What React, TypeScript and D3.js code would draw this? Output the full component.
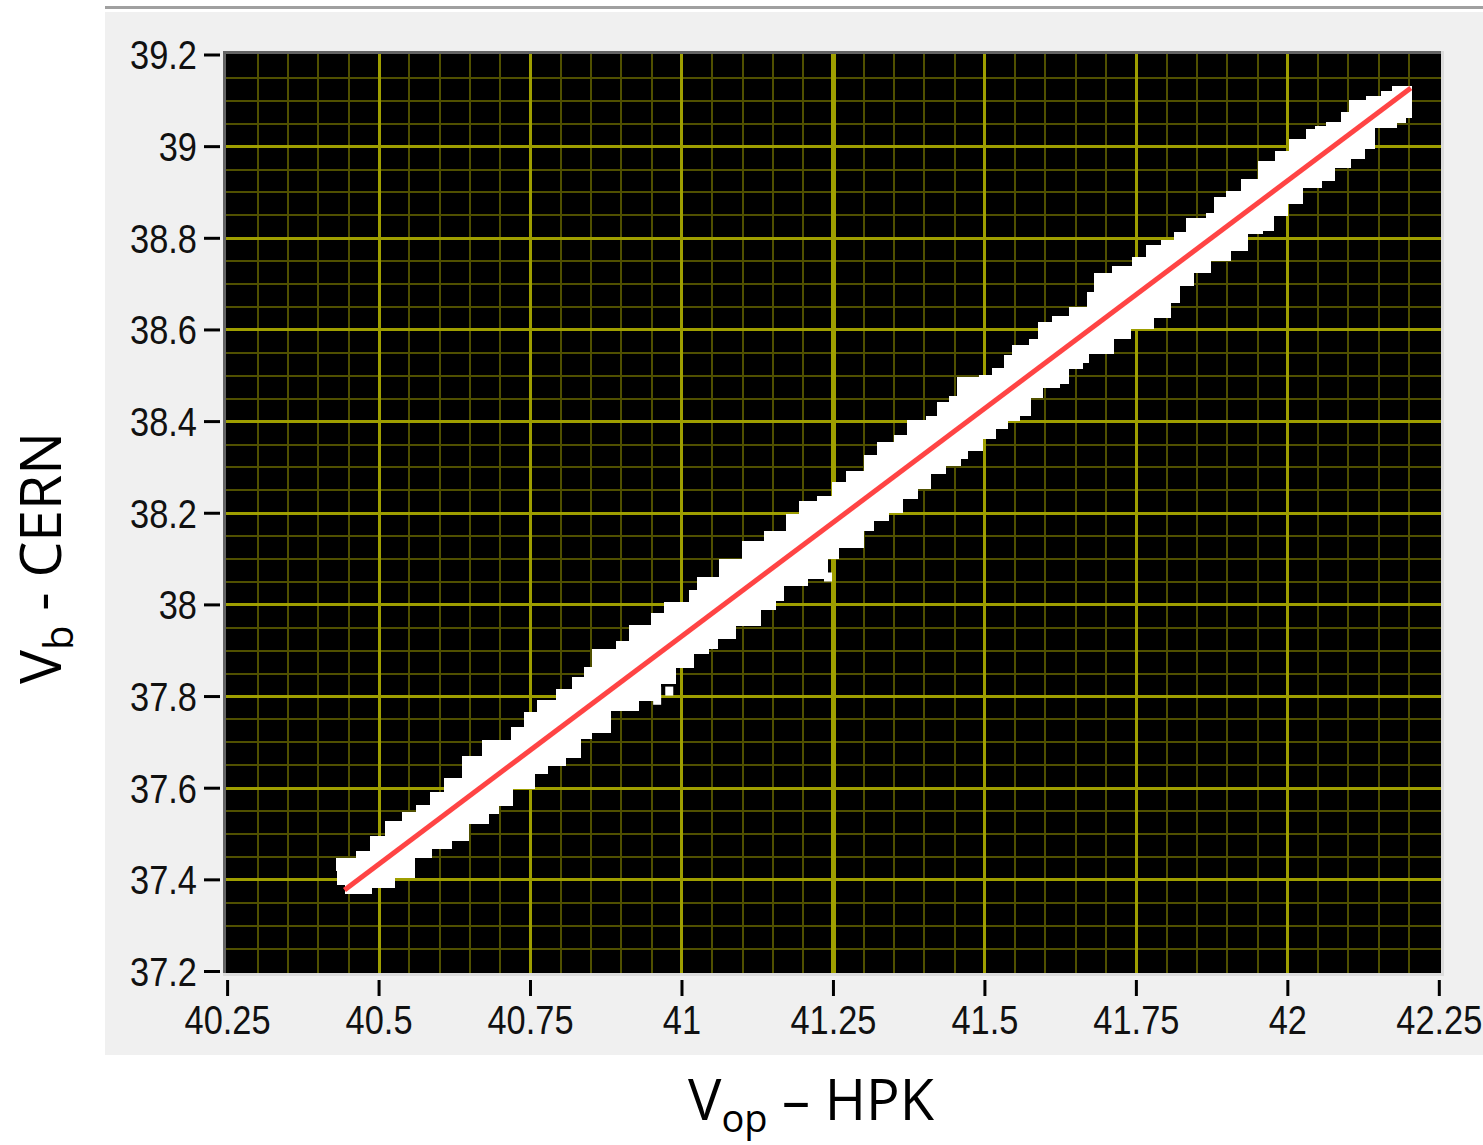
import React from "react";
import * as d3 from "d3";

// axis ticks
const xTicks = [40.25, 40.5, 40.75, 41, 41.25, 41.5, 41.75, 42, 42.25];
const xTickLabels = ["40.25", "40.5", "40.75", "41", "41.25", "41.5", "41.75", "42", "42.25"];
const yTicks = [37.2, 37.4, 37.6, 37.8, 38, 38.2, 38.4, 38.6, 38.8, 39, 39.2];
const yTickLabels = ["37.2", "37.4", "37.6", "37.8", "38", "38.2", "38.4", "38.6", "38.8", "39", "39.2"];
const cursorX = [41.25];

// white cloud of measured points, read as its upper and lower outline
const bandUpperX = [40.431, 40.464, 40.486, 40.511, 40.54, 40.563, 40.585, 40.609, 40.639, 40.672, 40.72, 40.741, 40.763, 40.794, 40.82, 40.84, 40.853, 40.893, 40.914, 40.951, 40.972, 41.013, 41.027, 41.063, 41.101, 41.137, 41.173, 41.195, 41.224, 41.249, 41.272, 41.302, 41.323, 41.351, 41.373, 41.404, 41.422, 41.442, 41.455, 41.492, 41.513, 41.533, 41.546, 41.574, 41.59, 41.612, 41.64, 41.67, 41.681, 41.711, 41.744, 41.767, 41.792, 41.813, 41.833, 41.866, 41.879, 41.899, 41.924, 41.953, 41.981, 42.003, 42.032, 42.047, 42.065, 42.09, 42.102, 42.131, 42.156, 42.173, 42.201, 42.204];
const bandUpperY = [37.42, 37.446, 37.46, 37.494, 37.527, 37.545, 37.562, 37.59, 37.621, 37.669, 37.704, 37.732, 37.765, 37.791, 37.815, 37.841, 37.863, 37.902, 37.92, 37.955, 37.981, 38.005, 38.031, 38.059, 38.099, 38.138, 38.16, 38.197, 38.225, 38.236, 38.267, 38.291, 38.325, 38.354, 38.369, 38.402, 38.41, 38.441, 38.454, 38.496, 38.5, 38.515, 38.543, 38.565, 38.578, 38.615, 38.629, 38.648, 38.681, 38.722, 38.738, 38.757, 38.783, 38.794, 38.812, 38.842, 38.853, 38.888, 38.901, 38.927, 38.967, 38.988, 39.015, 39.036, 39.043, 39.052, 39.073, 39.1, 39.108, 39.119, 39.13, 39.13];
const bandLowerX = [40.431, 40.445, 40.486, 40.524, 40.557, 40.585, 40.618, 40.646, 40.679, 40.697, 40.72, 40.755, 40.778, 40.807, 40.832, 40.849, 40.881, 40.91, 40.928, 40.964, 40.989, 41.018, 41.043, 41.058, 41.088, 41.129, 41.154, 41.167, 41.206, 41.239, 41.257, 41.299, 41.315, 41.34, 41.363, 41.388, 41.409, 41.434, 41.459, 41.47, 41.496, 41.516, 41.536, 41.557, 41.574, 41.595, 41.623, 41.637, 41.661, 41.67, 41.711, 41.739, 41.777, 41.805, 41.821, 41.843, 41.871, 41.904, 41.932, 41.957, 41.975, 41.998, 42.024, 42.055, 42.077, 42.102, 42.126, 42.143, 42.179, 42.193, 42.204];
const bandLowerY = [37.392, 37.372, 37.385, 37.407, 37.449, 37.47, 37.488, 37.525, 37.545, 37.564, 37.601, 37.634, 37.651, 37.669, 37.71, 37.723, 37.771, 37.771, 37.793, 37.83, 37.865, 37.896, 37.907, 37.928, 37.957, 37.99, 38.011, 38.044, 38.059, 38.103, 38.127, 38.164, 38.186, 38.203, 38.234, 38.256, 38.288, 38.306, 38.321, 38.338, 38.365, 38.386, 38.404, 38.415, 38.454, 38.476, 38.485, 38.517, 38.53, 38.55, 38.583, 38.605, 38.629, 38.661, 38.698, 38.727, 38.753, 38.775, 38.812, 38.818, 38.851, 38.877, 38.912, 38.927, 38.956, 38.975, 38.997, 39.043, 39.054, 39.065, 39.08];

// stray points below the cloud
const outlierX = [41.241, 40.959, 40.959, 40.979];
const outlierY = [38.062, 37.813, 37.793, 37.813];

// linear fit (red)
const fitX = [40.443, 42.203];
const fitY = [37.378, 39.128];

export default function App() {
  const width = 1483;
  const height = 1145;

  const x = d3.scaleLinear().domain([40.25, 42.25]).range([227.6, 1439.3]);
  const y = d3.scaleLinear().domain([37.2, 39.2]).range([971.5, 55]);

  const plot = { left: 226, top: 54, right: 1441, bottom: 973 };

  const minorX = x.ticks(40).filter((v) => v > 40.26 && v < 42.24);
  const minorY = y.ticks(40).filter((v) => v > 37.21 && v < 39.19);
  const majorX = xTicks.filter((v) => v > 40.25 && v < 42.25 && !cursorX.includes(v));
  const majorY = yTicks.filter((v) => v > 37.2 && v < 39.2);

  const outline: [number, number][] = [
    ...bandUpperX.map((v, i) => [v, bandUpperY[i]] as [number, number]),
    ...bandLowerX.map((v, i) => [v, bandLowerY[i]] as [number, number]).reverse(),
  ];
  // step "before" keeps the staircase on the outer side of both edges
  const band = d3
    .line<[number, number]>()
    .x((d) => x(d[0]))
    .y((d) => y(d[1]))
    .curve(d3.curveStepBefore);

  const fit = d3
    .line<number>()
    .x((d) => x(d))
    .y((_, i) => y(fitY[i]));

  const tickFont = "'Liberation Sans', Arial, sans-serif";
  const tickSquash = 0.86;
  const titleFont = "'Open Sans', 'Noto Sans', sans-serif";

  return (
    <svg
      width={width}
      height={height}
      style={{ position: "absolute", left: 0, top: 0, background: "white" }}
    >
      {/* LabVIEW-style panel */}
      <rect x={105} y={6} width={width - 105} height={3} fill="#a0a0a0" />
      <rect x={105} y={12} width={width - 105} height={1043} fill="#f0f0f0" />

      {/* plot frame */}
      <rect x={223} y={51} width={1221} height={925} fill="#dcdcdc" />
      <rect x={223} y={51} width={1218} height={922} fill="#646464" />
      <rect
        x={plot.left}
        y={plot.top}
        width={plot.right - plot.left}
        height={plot.bottom - plot.top}
        fill="#000"
      />

      <g shapeRendering="crispEdges">
        {minorX.map((v) => (
          <line key={`mx${v}`} x1={x(v)} x2={x(v)} y1={plot.top} y2={plot.bottom} stroke="#505000" strokeWidth={2} />
        ))}
        {minorY.map((v) => (
          <line key={`my${v}`} x1={plot.left} x2={plot.right} y1={y(v)} y2={y(v)} stroke="#505000" strokeWidth={2} />
        ))}
        {majorX.map((v) => (
          <line key={`Mx${v}`} x1={x(v)} x2={x(v)} y1={plot.top} y2={plot.bottom} stroke="#9e9e00" strokeWidth={3} />
        ))}
        {majorY.map((v) => (
          <line key={`My${v}`} x1={plot.left} x2={plot.right} y1={y(v)} y2={y(v)} stroke="#9e9e00" strokeWidth={3} />
        ))}
        {cursorX.map((v) => (
          <line key={`c${v}`} x1={x(v)} x2={x(v)} y1={plot.top} y2={plot.bottom} stroke="#9e9e00" strokeWidth={4.5} />
        ))}
      </g>

      {/* data cloud */}
      <path d={band(outline) || ""} fill="#fff" stroke="#fff" strokeWidth={2} shapeRendering="crispEdges" />
      {outlierX.map((v, i) => (
        <rect key={`o${i}`} x={x(v) - 4} y={y(outlierY[i]) - 4} width={8} height={9} fill="#fff" />
      ))}

      {/* fit line */}
      <path d={fit(fitX) || ""} fill="none" stroke="#ff4444" strokeWidth={5} />

      {/* y axis */}
      {yTicks.map((v, i) => (
        <g key={`yt${v}`}>
          <line x1={204} x2={220} y1={y(v)} y2={y(v)} stroke="#000" strokeWidth={3} />
          <text
            transform={`translate(197,${y(v)}) scale(${tickSquash},1)`}
            dy="0.36em"
            textAnchor="end"
            fontFamily={tickFont}
            fontSize={40}
            fill="#111"
          >
            {yTickLabels[i]}
          </text>
        </g>
      ))}

      {/* x axis */}
      {xTicks.map((v, i) => (
        <g key={`xt${v}`}>
          <line x1={x(v)} x2={x(v)} y1={980} y2={996} stroke="#000" strokeWidth={3} />
          <text
            transform={`translate(${x(v)},1034) scale(${tickSquash},1)`}
            textAnchor="middle"
            fontFamily={tickFont}
            fontSize={40}
            fill="#111"
          >
            {xTickLabels[i]}
          </text>
        </g>
      ))}

      {/* axis titles */}
      <text
        transform="translate(61,558) rotate(-90)"
        textAnchor="middle"
        fontFamily={titleFont}
        fontSize={57}
        fill="#000"
      >
        V<tspan dy={12} fontSize={40}>b</tspan>
        <tspan dy={-12}> - CERN</tspan>
      </text>
      <text x={811} y={1120} textAnchor="middle" fontFamily={titleFont} fontSize={56} fill="#000">
        V<tspan dy={12} fontSize={38}>op</tspan>
        <tspan dy={-12}> – HPK</tspan>
      </text>
    </svg>
  );
}
